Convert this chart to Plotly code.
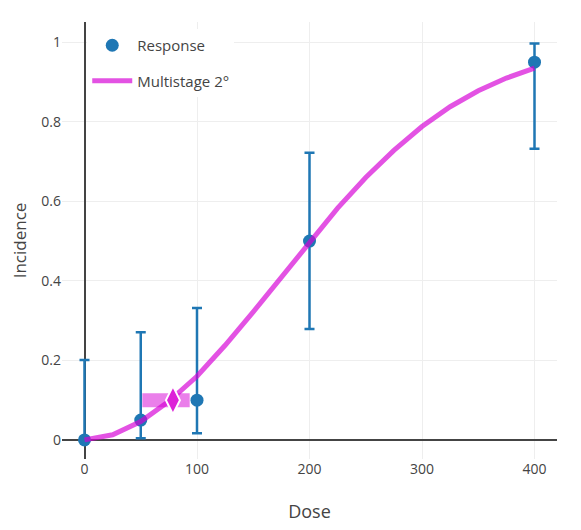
import plotly.graph_objects as go

# observed dose-response data
dose = [0, 50, 100, 200, 400]
incidence = [0.0, 0.05, 0.1, 0.5, 0.95]
ci_low = [0.0, 0.004, 0.017, 0.279, 0.732]
ci_high = [0.201, 0.271, 0.332, 0.722, 0.997]

# fitted multistage 2nd degree curve
fit_dose = [0, 25, 50, 75, 100, 125, 150, 175, 200, 225, 250, 275, 300, 325, 350, 375, 400]
fit_resp = [0.0, 0.013, 0.046, 0.097, 0.16, 0.238, 0.322, 0.41, 0.5, 0.583, 0.66,
            0.728, 0.788, 0.838, 0.878, 0.91, 0.935]

# benchmark dose and its interval
bmr = 0.1
bmd = 78.6
bmdl = 51.4
bmdu = 93.5

err_plus = [h - y for h, y in zip(ci_high, incidence)]
err_minus = [y - l for l, y in zip(ci_low, incidence)]

fig = go.Figure()

fig.add_trace(go.Scatter(
    x=dose, y=incidence, mode="markers", name="Response",
    legendgroup="resp",
    marker=dict(color="#1f77b4", size=13),
    error_y=dict(type="data", array=err_plus, arrayminus=err_minus,
                 color="#1f77b4", thickness=2.5, width=5),
))

fig.add_trace(go.Scatter(
    x=fit_dose, y=fit_resp, mode="lines", name="Multistage 2°",
    legendgroup="fit",
    line=dict(color="rgba(214,0,214,0.68)", width=5),
))

# BMD interval band + BMD marker
fig.add_trace(go.Scatter(
    x=[bmdl, bmdu], y=[bmr, bmr], mode="lines", showlegend=False,
    line=dict(color="rgba(214,0,214,0.5)", width=14),
))
fig.add_trace(go.Scatter(
    x=[bmd], y=[bmr], mode="markers", showlegend=False,
    marker=dict(symbol="diamond-tall", size=20, color="#dd22d8",
                line=dict(color="white", width=2)),
))

# page body has an 8px margin, so shrink the figure and margins to compensate
fig.update_layout(
    width=573, height=522,
    margin=dict(l=54, r=24, t=14, b=71, autoexpand=False),
    plot_bgcolor="white", paper_bgcolor="white",
    font=dict(family="Open Sans", color="#444", size=14),
    legend=dict(x=0.051, y=0.984, xanchor="left", yanchor="top",
                bgcolor="white", font=dict(size=15), itemwidth=40,
                traceorder="grouped", tracegroupgap=13),
    xaxis=dict(title=dict(text="Dose", font=dict(size=18), standoff=28),
               range=[-20, 420], tickvals=[0, 100, 200, 300, 400],
               gridcolor="#eee", zeroline=True, zerolinecolor="#444", zerolinewidth=2,
               showline=False, automargin=False),
    yaxis=dict(title=dict(text="Incidence", font=dict(size=17), standoff=25),
               range=[-0.048, 1.051], tickvals=[0, 0.2, 0.4, 0.6, 0.8, 1],
               gridcolor="#eee", zeroline=True, zerolinecolor="#444", zerolinewidth=2,
               showline=False, automargin=False),
)

fig.write_html("out.html")
